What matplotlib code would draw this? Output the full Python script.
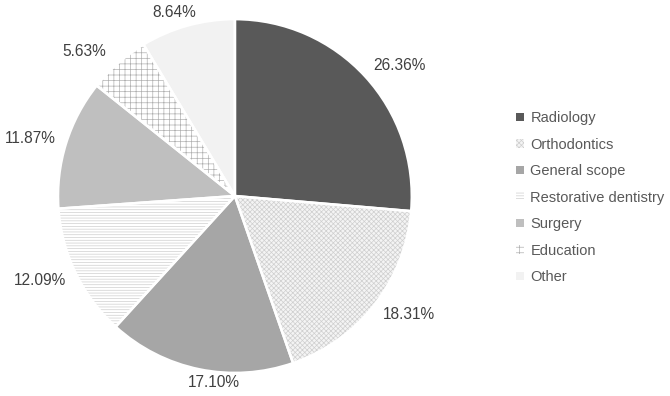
import numpy as np
import matplotlib
matplotlib.use("Agg")
import matplotlib.pyplot as plt

plt.rcParams['font.family'] = ['Liberation Sans', 'DejaVu Sans']
plt.rcParams['hatch.linewidth'] = 0.5

# slice data (clockwise from 12 o'clock)
categories = ["Radiology", "Orthodontics", "General scope", "Restorative dentistry",
              "Surgery", "Education", "Other"]
shares = [26.36, 18.31, 17.10, 12.09, 11.87, 5.63, 8.64]

# styling per slice
face = ["#595959", "#f4f4f4", "#a6a6a6", "white", "#bfbfbf", "white", "#f2f2f2"]
hatch_col = ["#595959", "#cfcfcf", "#a6a6a6", "#cfcfcf", "#bfbfbf", "#b0b0b0", "#f2f2f2"]
hatches = [None, "xxxxxxx", None, "------", None, "+++", None]

fig = plt.figure(figsize=(6.7, 3.96), dpi=100)
ax = fig.add_axes([0.0866, 0.058, 0.528, 0.894])

wedges, _ = ax.pie(shares, startangle=90, counterclock=False, colors=face,
                   wedgeprops=dict(linewidth=0))
for w, hc, h in zip(wedges, hatch_col, hatches):
    w.set_edgecolor(hc)
    if h:
        w.set_hatch(h)

# white separators
ax.pie(shares, startangle=90, counterclock=False,
       wedgeprops=dict(facecolor="none", edgecolor="white", linewidth=1.8))
ax.set_xlim(-1, 1)
ax.set_ylim(-1, 1)

# percentage labels just outside each slice
cum = np.cumsum([0] + shares[:-1])
total = sum(shares)
for c, s in zip(cum, shares):
    ang = np.deg2rad(90 - (c + s / 2) / total * 360)
    x, y = 1.03 * np.cos(ang), 1.03 * np.sin(ang)
    dx = np.clip(np.cos(ang) * 1.5, -1, 1) * 22
    dy = np.clip(np.sin(ang) * 1.5, -1, 1) * 5.5
    if np.sin(ang) < -0.95:
        dx += 18  # bottom label sits a little right of the slice middle
    ax.annotate(f"{s:.2f}%", (x, y), xytext=(dx, dy), textcoords="offset points",
                ha="center", va="center", fontsize=11.2, color="#404040",
                annotation_clip=False)

leg = fig.legend(wedges, categories, loc="upper left", bbox_to_anchor=(0.76, 0.738),
                 frameon=False, fontsize=10.5, handlelength=0.5, handleheight=0.5,
                 handletextpad=0.45, labelspacing=0.86, borderpad=0)
for t in leg.get_texts():
    t.set_color("#595959")

fig.savefig("out.png", dpi=100)
